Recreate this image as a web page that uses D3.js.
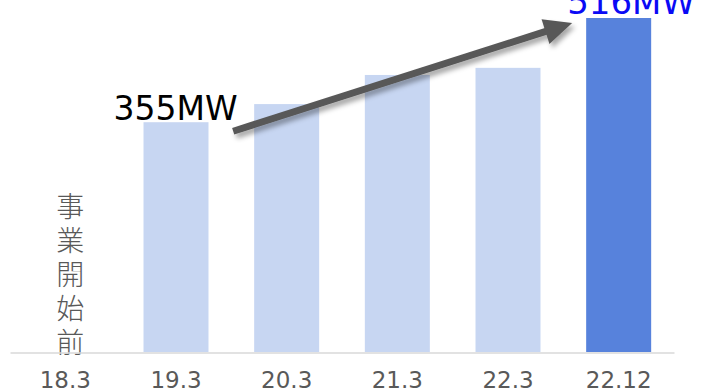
<!DOCTYPE html>
<html>
<head>
<meta charset="utf-8">
<script src="https://cdn.jsdelivr.net/npm/d3@7"></script>
<style>
  html, body { margin: 0; padding: 0; background: #fff; }
  svg { display: block; }
</style>
</head>
<body>
<svg id="chart" width="701" height="392"></svg>
<script>
// ---- data ----
const categories = ["18.3", "19.3", "20.3", "21.3", "22.3", "22.12"];
const capacityMW = [0, 355, 383, 428, 439, 516];
const highlight = [false, false, false, false, false, true];
const preStartLabel = "事業開始前";
const startLabel = "355MW";
const endLabel = "516MW";

// ---- layout ----
const svg = d3.select("#chart");

const x = d3.scaleBand()
  .domain(categories)
  .range([10, 674])
  .paddingInner(0.4127)
  .paddingOuter(0.4127 / 2);

const y = d3.scaleLinear()
  .domain([0, 516])
  .range([352, 18]);

const defs = svg.append("defs");
const f = defs.append("filter").attr("id", "shadow")
  .attr("x", "-20%").attr("y", "-50%").attr("width", "140%").attr("height", "200%");
f.append("feDropShadow")
  .attr("dx", 3).attr("dy", 4).attr("stdDeviation", 2.5)
  .attr("flood-color", "#000").attr("flood-opacity", 0.35);

// bars
svg.append("g").selectAll("rect")
  .data(categories.map((c, i) => ({ c, v: capacityMW[i], h: highlight[i] })))
  .join("rect")
  .attr("x", d => x(d.c))
  .attr("width", x.bandwidth())
  .attr("y", d => y(d.v))
  .attr("height", d => y(0) - y(d.v))
  .attr("fill", d => d.h ? "#5782dc" : "#c7d6f2");

// vertical label for pre-start category
const vx = x("18.3") + x.bandwidth() / 2 + 5;
svg.append("text")
  .attr("x", vx)
  .attr("y", 192)
  .style("writing-mode", "vertical-rl")
  .style("text-orientation", "upright")
  .style("letter-spacing", "6px")
  .attr("font-family", "'Noto Sans CJK JP', sans-serif")
  .attr("font-size", 28)
  .attr("font-weight", 300)
  .attr("fill", "#595959")
  .text(preStartLabel);

// x axis
const xAxis = svg.append("g")
  .attr("transform", `translate(0,${y(0) + 0.5})`)
  .call(d3.axisBottom(x).tickSize(0).tickSizeOuter(0).tickPadding(24));
xAxis.select(".domain").attr("stroke", "#d9d9d9").attr("stroke-width", 1.6);
xAxis.selectAll("text")
  .attr("font-family", "'DejaVu Sans', Verdana, sans-serif")
  .attr("font-size", 23)
  .attr("fill", "#595959")
  .attr("dy", "0.5em");

// arrow
const x0 = x("20.3") - 21, y0 = y(capacityMW[1]) + 9;
const x1 = x("22.12") - 14, y1 = y(capacityMW[5]) + 5;
const ang = Math.atan2(y1 - y0, x1 - x0);
const headLen = 28, headHalf = 13;
const bx = x1 - headLen * Math.cos(ang), by = y1 - headLen * Math.sin(ang);
const px = -Math.sin(ang), py = Math.cos(ang);
const arrow = svg.append("g").attr("filter", "url(#shadow)");
arrow.append("line")
  .attr("x1", x0).attr("y1", y0)
  .attr("x2", bx + 2 * Math.cos(ang)).attr("y2", by + 2 * Math.sin(ang))
  .attr("stroke", "#595959").attr("stroke-width", 7);
arrow.append("path")
  .attr("d", d3.line()([
    [x1, y1],
    [bx + px * headHalf, by + py * headHalf],
    [bx - px * headHalf, by - py * headHalf]
  ]) + "Z")
  .attr("fill", "#595959");

// labels
svg.append("text")
  .attr("x", x("19.3") - 30)
  .attr("y", y(capacityMW[1]) - 2)
  .attr("font-family", "'DejaVu Sans', Verdana, sans-serif")
  .attr("font-size", 33)
  .attr("fill", "#000")
  .text(startLabel);

svg.append("text")
  .attr("x", x("22.12") - 19)
  .attr("y", y(capacityMW[5]) - 4)
  .attr("font-family", "'DejaVu Sans', Verdana, sans-serif")
  .attr("font-size", 34)
  .attr("fill", "#0a0af5")
  .text(endLabel);
</script>
</body>
</html>
